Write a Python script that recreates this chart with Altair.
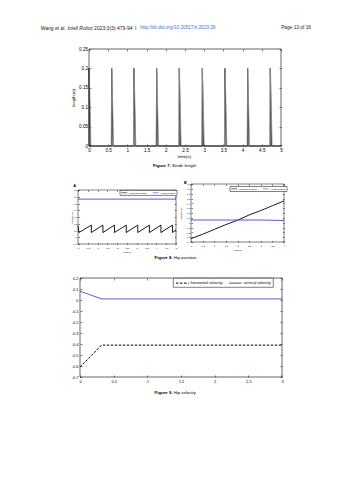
import altair as alt
import pandas as pd

FONT = "Liberation Sans"
BLUE = "#4a4ac4"
BLUE8 = "#4646d6"
LINK = "#3d72c0"
LBL = "replace(format(datum.value, '~g'), '\u2212', '-')"

# ---------------- page texts
header_author = "Wang et al."
header_journal = "Intell Robot"
header_cite = "2023;3(3):479-94"
header_sep = "I"
header_link = "http://dx.doi.org/10.20517/ir.2023.29"
header_page = "Page 13 of 16"
cap7 = ["Figure 7.", "Stride length."]
cap8 = ["Figure 8.", "Hip position."]
cap9 = ["Figure 9.", "Hip velocity."]

# ---------------- Figure 7: stride length
stride_black_t = [0.00, 0.00, 0.035, 0.59, 0.59, 0.625, 1.17, 1.17, 1.205, 1.76, 1.76, 1.795,
                  2.35, 2.35, 2.385, 2.95, 2.95, 2.985, 3.54, 3.54, 3.575, 4.13, 4.13, 4.165,
                  4.72, 4.72, 4.755, 5.00]
stride_black_y = [0, 0.2, 0, 0, 0.2, 0, 0, 0.2, 0, 0, 0.2, 0,
                  0, 0.2, 0, 0, 0.2, 0, 0, 0.2, 0, 0, 0.2, 0,
                  0, 0.2, 0, 0]
stride_gray_t = [0.005, 0.05, 0.575, 0.595, 0.64, 1.155, 1.175, 1.22, 1.745, 1.765, 1.81,
                 2.335, 2.355, 2.40, 2.935, 2.955, 3.00, 3.525, 3.545, 3.59,
                 4.115, 4.135, 4.18, 4.705, 4.725, 4.77, 5.00]
stride_gray_y = [0.2, 0, 0, 0.2, 0, 0, 0.2, 0, 0, 0.2, 0,
                 0, 0.2, 0, 0, 0.2, 0, 0, 0.2, 0,
                 0, 0.2, 0, 0, 0.2, 0, 0]
fig7_x_ticks = [0, 0.5, 1, 1.5, 2, 2.5, 3, 3.5, 4, 4.5, 5]
fig7_y_ticks = [0, 0.05, 0.1, 0.15, 0.2, 0.25]

# ---------------- Figure 8A: hip position (gait)
hipA_series = ["horizontal position", "vertical position"]
hipA_h_t = [0.00, 0.05, 0.68, 0.68, 1.27, 1.27, 1.86, 1.86, 2.46, 2.46, 3.05, 3.05,
            3.64, 3.64, 4.23, 4.23, 4.82, 4.82, 5.00]
hipA_h_y = [0.17, 0.07, 0.18, 0.07, 0.18, 0.07, 0.18, 0.07, 0.18, 0.07, 0.18, 0.07,
            0.18, 0.07, 0.18, 0.07, 0.18, 0.07, 0.11]
hipA_v_t = [0.0, 5.0]
hipA_v_y = [0.565, 0.565]
hipA_x_ticks = [0, 0.5, 1, 1.5, 2, 2.5, 3, 3.5, 4, 4.5, 5]
hipA_y_ticks = [-0.1, 0, 0.1, 0.2, 0.3, 0.4, 0.5, 0.6, 0.7]

# ---------------- Figure 8B
hipB_series = ["horizontal position", "vertical position"]
hipB_h_t = [0, 0.5, 1.0, 1.5, 2.0, 2.5, 3.0, 3.5, 4.0]
hipB_h_y = [-0.33, -0.24, -0.14, -0.04, 0.05, 0.16, 0.25, 0.35, 0.45]
hipB_v_t = [0.0, 3.0, 4.0]
hipB_v_y = [0.055, 0.055, 0.045]
hipB_x_ticks = [0, 0.5, 1, 1.5, 2, 2.5, 3, 3.5, 4]
hipB_y_ticks = [-0.4, -0.3, -0.2, -0.1, 0, 0.1, 0.2, 0.3, 0.4, 0.5, 0.6, 0.7, 0.8]

# ---------------- Figure 9: hip velocity
vel_series = ["horizontal velocity", "vertical velocity"]
vel_h_t = [0.0, 0.32, 3.0]
vel_h_y = [-0.61, -0.41, -0.41]
vel_v_t = [0.0, 0.32, 3.0]
vel_v_y = [0.08, 0.01, 0.01]
fig9_x_ticks = [0, 0.5, 1, 1.5, 2, 2.5, 3]
fig9_y_ticks = [-0.7, -0.6, -0.5, -0.4, -0.3, -0.2, -0.1, 0, 0.1, 0.2]

W, H = 353, 480


def sc(dom, rng):
    return alt.Scale(domain=dom, range=rng, nice=False, zero=False)


def axis(orient, values, offset, tick, fs=None, pad=None, title=None,
         tx=None, ty=None, tfs=None):
    kw = dict(orient=orient, values=values, offset=offset, tickSize=tick,
              grid=False, domain=False, labelOverlap=False, labelFlush=False,
              tickColor="black", tickWidth=0.5)
    if fs is None:
        kw["labels"] = False
    else:
        kw.update(labelFontSize=fs, labelPadding=pad, labelExpr=LBL,
                  labelColor="black", labelFont=FONT)
    if title is None:
        kw["title"] = None
    else:
        kw.update(title=title, titleFontSize=tfs, titleFontWeight="normal",
                  titleX=tx, titleY=ty, titleAlign="center",
                  titleBaseline="middle", titleFont=FONT, titleColor="black")
    return alt.Axis(**kw)


def frame(xd, xr, yd, yr, xax, yax, sw=0.6):
    df = pd.DataFrame({"x0": [xd[0]], "x1": [xd[-1]], "y0": [yd[0]], "y1": [yd[-1]]})
    return alt.Chart(df).mark_rect(fillOpacity=0, stroke="black", strokeWidth=sw).encode(
        x=alt.X("x0:Q", scale=sc([xd[0], xd[-1]], xr), axis=xax),
        x2="x1:Q",
        y=alt.Y("y0:Q", scale=sc([yd[0], yd[-1]], yr), axis=yax),
        y2="y1:Q",
    )


def line(ts, vs, color, width, xd, xr, yd, yr, xax=None, yax=None):
    df = pd.DataFrame({"t": ts, "v": vs, "i": list(range(len(ts)))})
    return alt.Chart(df).mark_line(color=color, strokeWidth=width).encode(
        x=alt.X("t:Q", scale=sc([xd[0], xd[-1]], xr), axis=xax),
        y=alt.Y("v:Q", scale=sc([yd[0], yd[-1]], yr), axis=yax),
        order="i:Q",
    )


def series_lines(name, series, t1, v1, t2, v2, colors, width, dashes,
                 xd, xr, yd, yr, legend, xax=None, yax=None):
    df = pd.DataFrame({
        "t": t1 + t2,
        "v": v1 + v2,
        name: [series[0]] * len(t1) + [series[1]] * len(t2),
        "i": list(range(len(t1))) + list(range(len(t2))),
    })
    enc = dict(
        x=alt.X("t:Q", scale=sc([xd[0], xd[-1]], xr), axis=xax),
        y=alt.Y("v:Q", scale=sc([yd[0], yd[-1]], yr), axis=yax),
        color=alt.Color(f"{name}:N", scale=alt.Scale(domain=series, range=colors), legend=legend),
        order="i:Q",
    )
    if dashes is not None:
        enc["strokeDash"] = alt.StrokeDash(f"{name}:N", scale=alt.Scale(domain=series, range=dashes),
                                           legend=legend)
    return alt.Chart(df).mark_line(strokeWidth=width).encode(**enc)


def text(txt, x, y, size, weight="normal", style="normal", color="black", align="left"):
    return alt.Chart(pd.DataFrame({"k": [0]})).mark_text(
        text=txt, fontSize=size, fontWeight=weight, fontStyle=style, color=color,
        align=align, baseline="middle", font=FONT
    ).encode(x=alt.value(x), y=alt.value(y))


def legend(x, y, fs, size, pad, colpad, off, sw):
    # line sample drawn from -r to 5r (r = sqrt(size)/2)
    return alt.Legend(orient="none", legendX=x, legendY=y, direction="horizontal", title=None,
                      symbolType="M-1,0H5", symbolSize=size, symbolStrokeWidth=sw,
                      labelFontSize=fs, labelFont=FONT, labelColor="black", labelOffset=off,
                      columnPadding=colpad, padding=pad, strokeColor="black", fillColor="white")


layers = []

# ---- Figure 7
x7r, y7r = [89, 281], [146, 49]
layers.append(line(stride_black_t, stride_black_y, "black", 0.8, fig7_x_ticks, x7r, fig7_y_ticks, y7r,
                   xax=axis("top", fig7_x_ticks, -51, 2),
                   yax=axis("right", fig7_y_ticks, -74, 2)))
layers.append(line(stride_gray_t, stride_gray_y, "#8f8f8f", 0.8, fig7_x_ticks, x7r, fig7_y_ticks, y7r))
layers.append(frame(fig7_x_ticks, x7r, fig7_y_ticks, y7r,
                    axis("bottom", fig7_x_ticks, -336, 2, 4.6, 1.5, "time(s)", 184, 12, 4.4),
                    axis("left", fig7_y_ticks, -91, 2, 4.6, 1.5, "length(m)", -18, 97.5, 4.2)))

# ---- Figure 8A
xAr, yAr = [78, 176], [244, 190]
layers.append(series_lines("hipA", hipA_series, hipA_h_t, hipA_h_y, hipA_v_t, hipA_v_y,
                           ["black", BLUE8], 0.9, None, hipA_x_ticks, xAr, hipA_y_ticks, yAr,
                           legend(120, 190.4, 2.2, 4, 0.7, 3.5, 5.5, 0.6),
                           xax=axis("top", hipA_x_ticks, -191.5, 1.5),
                           yax=axis("right", hipA_y_ticks, -178.5, 1.5)))
layers.append(frame(hipA_x_ticks, xAr, hipA_y_ticks, yAr,
                    axis("bottom", hipA_x_ticks, -237.5, 1.5, 2.5, 2.3, "time(s)", 127, 9, 2.5),
                    axis("left", hipA_y_ticks, -79.5, 1.5, 2.5, 1.0, "position(m)", -7.5, 217, 2.5),
                    sw=0.5))

# ---- Figure 8B
xBr, yBr = [191, 284], [242, 184]
layers.append(series_lines("hipB", hipB_series, hipB_h_t, hipB_h_y, hipB_v_t, hipB_v_y,
                           ["black", BLUE8], 0.9, None, hipB_x_ticks, xBr, hipB_y_ticks, yBr,
                           legend(230, 186.5, 2.2, 4, 0.7, 3.5, 5.5, 0.6),
                           xax=axis("top", hipB_x_ticks, -185.5, 1.5),
                           yax=axis("right", hipB_y_ticks, -70.5, 1.5)))
layers.append(frame(hipB_x_ticks, xBr, hipB_y_ticks, yBr,
                    axis("bottom", hipB_x_ticks, -239.5, 1.5, 2.5, 2.3, "time(s)", 237.5, 9.5, 2.5),
                    axis("left", hipB_y_ticks, -192.5, 1.5, 2.5, 1.0, "position(m)", -11.5, 213, 2.5),
                    sw=0.5))

# ---- Figure 9
x9r, y9r = [80, 282], [377, 278]
layers.append(series_lines("vel", vel_series, vel_h_t, vel_h_y, vel_v_t, vel_v_y,
                           ["black", BLUE], 1.0, [[2.5, 1.5], [1, 0]],
                           fig9_x_ticks, x9r, fig9_y_ticks, y9r,
                           legend(173.3, 278.3, 4, 18, 1.8, 3, 9.5, 1),
                           xax=axis("top", fig9_x_ticks, -280, 2),
                           yax=axis("right", fig9_y_ticks, -73, 2)))
layers.append(frame(fig9_x_ticks, x9r, fig9_y_ticks, y9r,
                    axis("bottom", fig9_x_ticks, -105, 2, 4.0, 2, None),
                    axis("left", fig9_y_ticks, -82, 2, 4.0, 2, None)))

# ---- texts
layers += [
    text(header_author, 40.7, 27.5, 5, color="#222"),
    text(header_journal, 67.4, 27.5, 5, style="italic", color="#222"),
    text(header_cite, 94.1, 27.5, 5, color="#222"),
    text(header_sep, 135, 27.5, 5, color="#222"),
    text(header_link, 140.3, 27.5, 4.7, color=LINK),
    text(header_page, 311, 27.5, 4.8, color="#222", align="right"),
    text(cap7[0], 170.8, 166, 4.3, weight="bold", align="right"),
    text(cap7[1], 172, 166, 4.3),
    text(cap8[0], 172.5, 257.5, 4.3, weight="bold", align="right"),
    text(cap8[1], 173.7, 257.5, 4.3),
    text(cap9[0], 172.5, 393, 4.3, weight="bold", align="right"),
    text(cap9[1], 173.7, 393, 4.3),
    text("A", 73.2, 185.5, 3.8, weight="bold"),
    text("B", 184, 182.5, 3.8, weight="bold"),
]

chart = alt.layer(*layers).resolve_scale(
    x="independent", y="independent", color="independent", strokeDash="independent"
).properties(
    width=W, height=H, padding=0,
    autosize=alt.AutoSizeParams(type="none"),
    background="white",
).configure_view(stroke=None).configure_legend(strokeWidth=0.5)

chart.save("out.html", embed_options={"renderer": "svg", "actions": False})
